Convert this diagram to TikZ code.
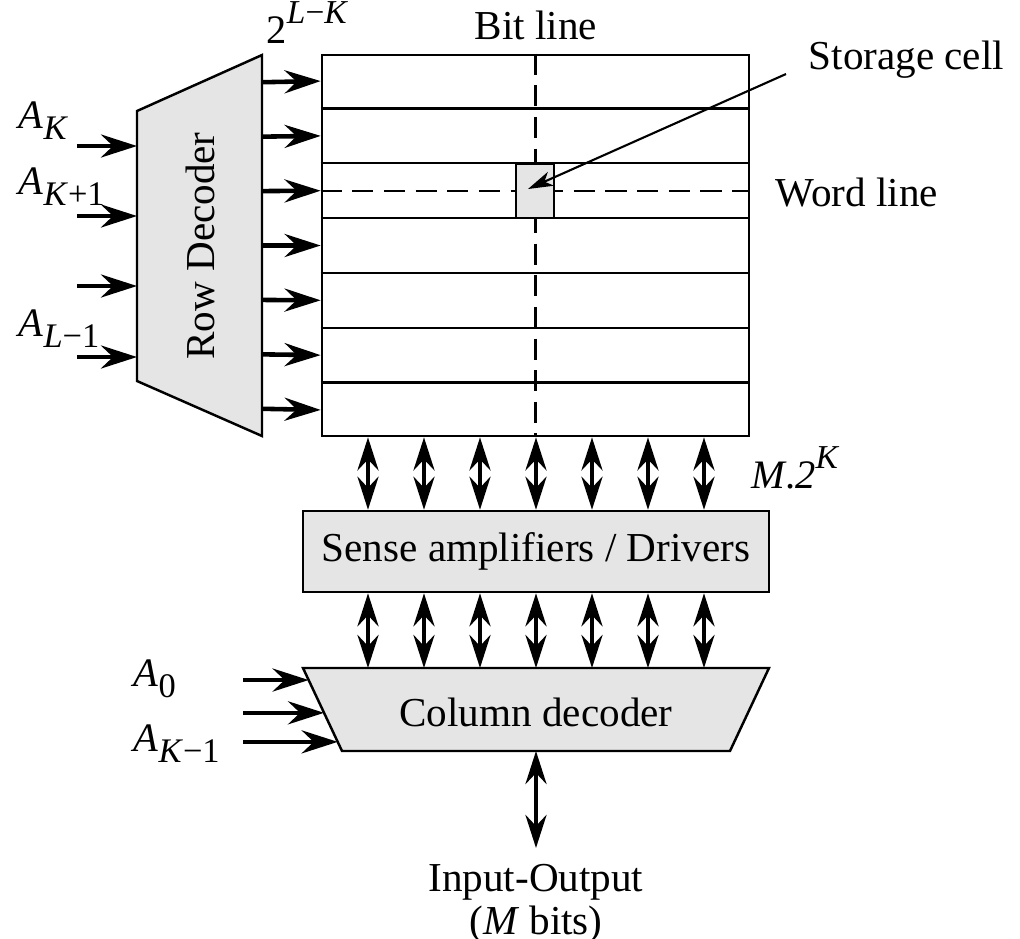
\documentclass[tikz,border=0pt]{standalone}
\usepackage{fontspec}
\setmainfont{Liberation Serif}
\usepackage{tikz}
\usetikzlibrary{arrows.meta,positioning,calc}
\definecolor{PanelGray}{RGB}{229,229,229}
\newcommand{\lowidx}[1]{\raisebox{-3.2pt}{\fontsize{9.8}{10}\selectfont #1}}
\newcommand{\upidx}[1]{\raisebox{5.5pt}{\fontsize{9.5}{10}\selectfont #1}}
\tikzset{
  box/.style={draw, line width=0.7pt, fill=PanelGray},
  cellline/.style={line width=0.6pt},
  dashline/.style={line width=0.6pt, dash pattern=on 6pt off 3pt},
  sig/.style={-{Stealth[length=3.6mm, width=2.3mm, inset=1.2mm]}, line width=1.3pt},
  bus/.style={{Stealth[length=3.3mm, width=2.1mm, inset=1.1mm]}-{Stealth[length=3.3mm, width=2.1mm, inset=1.1mm]}, line width=1.3pt},
  ptr/.style={-{Stealth[length=2.5mm, width=1.5mm, inset=0.7mm]}, line width=0.6pt},
  lbl/.style={inner sep=0pt, font=\fontsize{11.7}{13}\selectfont},
  addr/.style={inner sep=0pt, font=\fontsize{11.5}{12}\selectfont}
}
\begin{document}
\begin{tikzpicture}[x=0.01cm, y=-0.01cm]
  \useasboundingbox (0,0) rectangle (1020,938);

  % Memory array
  \node[draw, line width=0.7pt, minimum width=4.27cm, minimum height=3.81cm, inner sep=0pt] (array) at (535.5,245.5) {};
  \foreach \i [evaluate=\i as \f using \i/7] in {1,...,6}{
    \draw[cellline] ($(array.north west)!\f!(array.south west)$) -- ($(array.north east)!\f!(array.south east)$);
  }
  \draw[dashline] (array.north) -- (array.south);
  \draw[dashline] ($(array.north west)!2.5/7!(array.south west)$) -- ($(array.north east)!2.5/7!(array.south east)$);
  \node[draw, line width=0.6pt, fill=PanelGray, minimum width=0.38cm, minimum height=0.54cm, inner sep=0pt] (cell) at (535,191) {};

  \node[lbl, anchor=base] (bitline) at (536,39) {Bit line};
  \node[lbl, anchor=base west] (sclbl) at (808,69) {Storage cell};
  \node[lbl, anchor=base west] (wordline) at (775,206) {Word line};
  \coordinate (scfrom) at (786,74);
  \draw[ptr] (scfrom) -- ([xshift=-0.7mm,yshift=0.2mm]cell.center);

  % Row decoder
  \coordinate (rdtl) at (137,111);
  \coordinate (rdbl) at (137,381);
  \coordinate (rdtr) at (262,55);
  \coordinate (rdbr) at (262,436);
  \draw[box] (rdtl) -- (rdtr) -- (rdbr) -- (rdbl) -- cycle;
  \node[lbl, rotate=90] (rdtext) at (200,246) {Row Decoder};
  \node[addr, anchor=base west] (twolk) at (266,43) {2\upidx{\textit{L}−\textit{K}}};

  \foreach \i [evaluate=\i as \f using (\i+0.5)/7] in {0,...,6}{
    \draw[sig] ($(rdtr)!\f!(rdbr)$) -- ($(array.north west)!\f!(array.south west)$);
  }
  \coordinate (rdin) at (77,0);
  \foreach \y in {146,216,286,357}{
    \coordinate (ai) at (137,\y);
    \draw[sig] (ai -| rdin) -- (ai);
  }
  \node[addr, anchor=base west] (ak) at (18,128) {\textit{A}\lowidx{\textit{K}}};
  \node[addr, anchor=base west] (akp) at (18,194) {\textit{A}\lowidx{\textit{K}+1}};
  \node[addr, anchor=base west] (alm) at (18,336) {\textit{A}\lowidx{\textit{L}−1}};

  % Sense amplifiers
  \node[box, lbl, minimum width=4.66cm, minimum height=0.81cm] (sa) at (536,551.5) {Sense amplifiers / Drivers};
  \node[addr, anchor=base west] (m2k) at (751,488) {\textit{M}.\textit{2}\upidx{\textit{K}}};

  % Column decoder
  \coordinate (cdtl) at (303,668);
  \coordinate (cdtr) at (769,668);
  \coordinate (cdbr) at (730,751);
  \coordinate (cdbl) at (342,751);
  \draw[box] (cdtl) -- (cdtr) -- (cdbr) -- (cdbl) -- cycle;
  \node[lbl] (cdtext) at (536,712) {Column decoder};

  \foreach \x in {368,424,...,704}{
    \coordinate (bx) at (\x,0);
    \draw[bus] (array.south -| bx) -- (sa.north -| bx);
    \draw[bus] (sa.south -| bx) -- (cdtl -| bx);
  }

  \coordinate (cdin) at (243,0);
  \foreach \f in {0.145,0.54,0.89}{
    \coordinate (ci) at ($(cdtl)!\f!(cdbl)$);
    \draw[sig] (ci -| cdin) -- (ci);
  }
  \node[addr, anchor=base west] (a0) at (133,686) {\textit{A}\lowidx{0}};
  \node[addr, anchor=base west] (akm) at (133,751) {\textit{A}\lowidx{\textit{K}−1}};

  % Input-Output
  \node[lbl, align=center, anchor=north] (io) at (536,864) {Input-Output\\[-1pt](\textit{M} bits)};
  \draw[bus] (cdtext |- cdbl) -- ([yshift=1.6mm]io.north);
\end{tikzpicture}
\end{document}
